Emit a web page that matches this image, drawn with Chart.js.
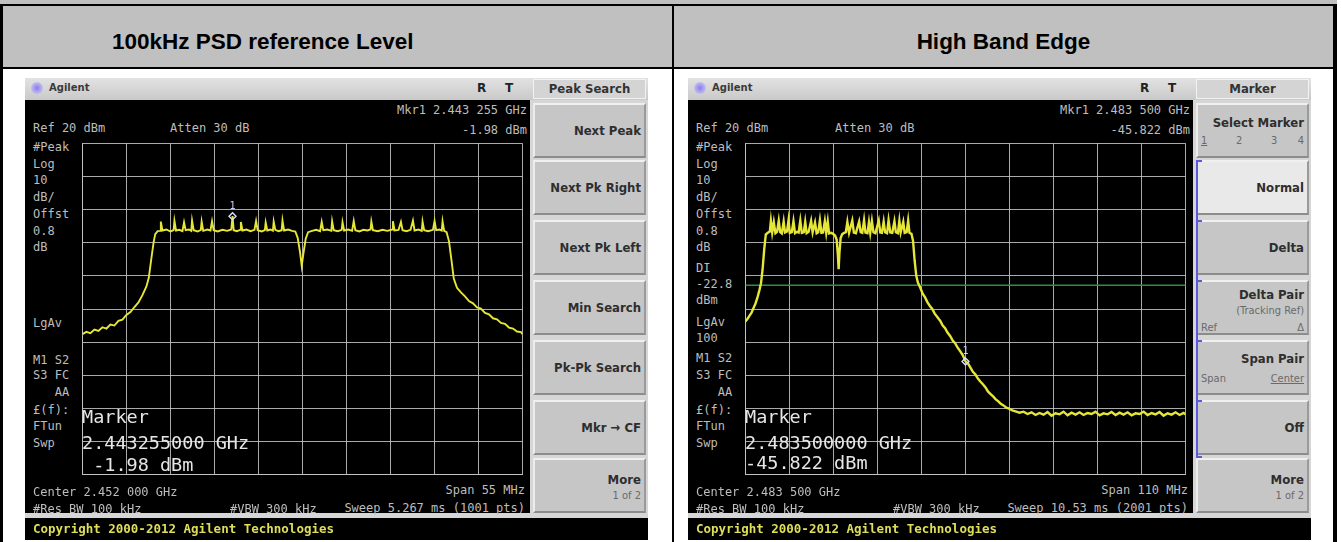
<!DOCTYPE html>
<html>
<head>
<meta charset="utf-8">
<script src="https://cdn.jsdelivr.net/npm/chart.js@4.4.1/dist/chart.umd.min.js"></script>
<style>
body{margin:0;width:1341px;height:542px;background:#fff;position:relative;overflow:hidden;font-family:"Liberation Sans",Arial,sans-serif}
.a{position:absolute}
.blk{position:absolute;background:#000}
.hcell{position:absolute;top:6px;height:61px;background:#c0c0c0}
.htxt{position:absolute;top:29px;font-weight:bold;font-size:22.5px;line-height:26px;color:#000;white-space:nowrap}
.panel{position:absolute;top:78px;width:623px;height:462px;background:#d6d6d6}
.titlebar{position:absolute;left:0;top:0;width:623px;height:22px;background:linear-gradient(#e2e2e2,#c9c9c9)}
.icon{position:absolute;left:6px;top:4px;width:12px;height:12px;border-radius:6px;background:radial-gradient(#8a7ce8,#b8b0f0 55%,rgba(200,200,240,0))}
.brand{position:absolute;left:24px;top:4px;font:bold 10px "DejaVu Sans";color:#3a3a3a}
.rt{position:absolute;top:3px;font:bold 12px "DejaVu Sans";color:#222}
.tab{position:absolute;left:508px;top:1px;width:111px;height:18px;border:1px solid #f2f2f2;background:#d4d4d4;text-align:center;font:bold 13px "DejaVu Sans Condensed";line-height:18px;color:#333}
.screen{position:absolute;left:0;top:22px;width:505px;height:413px;background:#000}
.copy{position:absolute;left:0;top:440px;width:623px;height:22px;background:#000}
.copy span{position:absolute;left:8px;top:3px;font:bold 12.5px "DejaVu Sans Mono";color:#dede5a;white-space:pre}
.plot{position:absolute;left:52px;top:60px}
.s{position:absolute;font:12px "DejaVu Sans Mono";line-height:14px;color:#bdbdbd;white-space:pre}
.big{position:absolute;left:57px;font:18.5px "DejaVu Sans Mono";line-height:22px;color:#e6e6e6;white-space:pre}
.key{position:absolute;left:508px;width:109px;height:51px;background:#c6c6c6;border-top:2px solid #f0f0f0;border-left:2px solid #ececec;border-bottom:2px solid #8c8c8c;border-right:2px solid #9a9a9a}
.kt{position:absolute;right:3px;font:bold 13px "DejaVu Sans Condensed";color:#2e2e2e;white-space:nowrap;line-height:16px}
.kn{position:absolute;font:11px "DejaVu Sans Condensed";color:#6a6a6a;white-space:nowrap;line-height:13px}
.brk{position:absolute;background:#5a5ae0}
</style>
</head>
<body>
<!-- table frame -->
<div class="a" style="left:0;top:0;width:1337px;height:4px;background:#c0c0c0"></div>
<div class="hcell" style="left:3px;width:669px"></div>
<div class="hcell" style="left:674px;width:659px"></div>
<div class="htxt" style="left:112px">100kHz PSD reference Level</div>
<div class="htxt" style="left:674px;width:659px;text-align:center">High Band Edge</div>
<div class="blk" style="left:0;top:4px;width:1337px;height:2px"></div>
<div class="blk" style="left:0;top:67px;width:1337px;height:2px"></div>
<div class="blk" style="left:0;top:4px;width:3px;height:538px"></div>
<div class="blk" style="left:672px;top:4px;width:2px;height:538px"></div>
<div class="blk" style="left:1333px;top:4px;width:4px;height:538px"></div>

<!-- left analyzer screen -->
<div class="panel" style="left:25px">
  <div class="titlebar"></div>
  <div class="icon"></div>
  <div class="brand">Agilent</div>
  <div class="rt" style="left:452px">R</div>
  <div class="rt" style="left:480px">T</div>
  <div class="tab">Peak Search</div>
  <div class="screen"></div>
  <canvas id="psdChart" class="plot" width="451" height="342"></canvas>

  <div class="s" style="left:8px;top:43px">Ref 20 dBm</div>
  <div class="s" style="left:145px;top:43px">Atten 30 dB</div>
  <div class="s" style="right:121px;top:25px">Mkr1 2.443 255 GHz</div>
  <div class="s" style="right:121px;top:45px">-1.98 dBm</div>
  <div class="s" style="left:8px;top:62px">#Peak</div>
  <div class="s" style="left:8px;top:79px">Log</div>
  <div class="s" style="left:8px;top:95px">10</div>
  <div class="s" style="left:8px;top:112px">dB/</div>
  <div class="s" style="left:8px;top:129px">Offst</div>
  <div class="s" style="left:8px;top:146px">0.8</div>
  <div class="s" style="left:8px;top:162px">dB</div>
  <div class="s" style="left:8px;top:238px">LgAv</div>
  <div class="s" style="left:8px;top:275px">M1 S2</div>
  <div class="s" style="left:8px;top:290px">S3 FC</div>
  <div class="s" style="left:8px;top:307px">   AA</div>
  <div class="s" style="left:8px;top:325px">£(f):</div>
  <div class="s" style="left:8px;top:341px">FTun</div>
  <div class="s" style="left:8px;top:358px">Swp</div>
  <div class="big" style="top:328px">Marker</div>
  <div class="big" style="top:354px">2.443255000 GHz</div>
  <div class="big" style="top:376px"> -1.98 dBm</div>
  <div class="s" style="left:8px;top:407px">Center 2.452 000 GHz</div>
  <div class="s" style="left:8px;top:424px">#Res BW 100 kHz</div>
  <div class="s" style="left:205px;top:424px">#VBW 300 kHz</div>
  <div class="s" style="right:123px;top:405px">Span 55 MHz</div>
  <div class="s" style="right:123px;top:423px">Sweep 5.267 ms (1001 pts)</div>

  <div class="key" style="top:25px"><div class="kt" style="top:18px">Next Peak</div></div>
  <div class="key" style="top:82px"><div class="kt" style="top:18px">Next Pk Right</div></div>
  <div class="key" style="top:142px"><div class="kt" style="top:18px">Next Pk Left</div></div>
  <div class="key" style="top:202px"><div class="kt" style="top:18px">Min Search</div></div>
  <div class="key" style="top:262px"><div class="kt" style="top:18px">Pk-Pk Search</div></div>
  <div class="key" style="top:322px"><div class="kt" style="top:18px">Mkr → CF</div></div>
  <div class="key" style="top:380px"><div class="kt" style="top:12px">More</div><div class="kn" style="right:3px;top:29px">1 of 2</div></div>

  <div class="copy"><span>Copyright 2000-2012 Agilent Technologies</span></div>
</div>

<!-- right analyzer screen -->
<div class="panel" style="left:688px">
  <div class="titlebar"></div>
  <div class="icon"></div>
  <div class="brand">Agilent</div>
  <div class="rt" style="left:452px">R</div>
  <div class="rt" style="left:480px">T</div>
  <div class="tab">Marker</div>
  <div class="screen"></div>
  <canvas id="edgeChart" class="plot" width="451" height="342"></canvas>

  <div class="s" style="left:8px;top:43px">Ref 20 dBm</div>
  <div class="s" style="left:147px;top:43px">Atten 30 dB</div>
  <div class="s" style="right:121px;top:25px">Mkr1 2.483 500 GHz</div>
  <div class="s" style="right:121px;top:45px">-45.822 dBm</div>
  <div class="s" style="left:8px;top:62px">#Peak</div>
  <div class="s" style="left:8px;top:79px">Log</div>
  <div class="s" style="left:8px;top:95px">10</div>
  <div class="s" style="left:8px;top:112px">dB/</div>
  <div class="s" style="left:8px;top:129px">Offst</div>
  <div class="s" style="left:8px;top:146px">0.8</div>
  <div class="s" style="left:8px;top:162px">dB</div>
  <div class="s" style="left:8px;top:183px">DI</div>
  <div class="s" style="left:8px;top:199px">-22.8</div>
  <div class="s" style="left:8px;top:215px">dBm</div>
  <div class="s" style="left:8px;top:237px">LgAv</div>
  <div class="s" style="left:8px;top:253px">100</div>
  <div class="s" style="left:8px;top:273px">M1 S2</div>
  <div class="s" style="left:8px;top:290px">S3 FC</div>
  <div class="s" style="left:8px;top:307px">   AA</div>
  <div class="s" style="left:8px;top:325px">£(f):</div>
  <div class="s" style="left:8px;top:341px">FTun</div>
  <div class="s" style="left:8px;top:358px">Swp</div>
  <div class="big" style="top:328px">Marker</div>
  <div class="big" style="top:354px">2.483500000 GHz</div>
  <div class="big" style="top:374px">-45.822 dBm</div>
  <div class="s" style="left:8px;top:407px">Center 2.483 500 GHz</div>
  <div class="s" style="left:8px;top:424px">#Res BW 100 kHz</div>
  <div class="s" style="left:205px;top:424px">#VBW 300 kHz</div>
  <div class="s" style="right:123px;top:405px">Span 110 MHz</div>
  <div class="s" style="right:123px;top:423px">Sweep 10.53 ms (2001 pts)</div>

  <div class="key" style="top:25px"><div class="kt" style="top:10px">Select Marker</div>
    <div class="kn" style="left:3px;top:29px;text-decoration:underline">1</div>
    <div class="kn" style="left:38px;top:29px">2</div>
    <div class="kn" style="left:73px;top:29px">3</div>
    <div class="kn" style="right:3px;top:29px">4</div></div>
  <div class="key" style="top:82px;background:#e9e9e9"><div class="kt" style="top:18px">Normal</div></div>
  <div class="key" style="top:142px"><div class="kt" style="top:18px">Delta</div></div>
  <div class="key" style="top:202px"><div class="kt" style="top:5px">Delta Pair</div>
    <div class="kn" style="right:3px;top:22px">(Tracking Ref)</div>
    <div class="kn" style="left:3px;top:39px">Ref</div>
    <div class="kn" style="right:3px;top:39px">Δ</div></div>
  <div class="key" style="top:262px"><div class="kt" style="top:9px">Span Pair</div>
    <div class="kn" style="left:3px;top:30px">Span</div>
    <div class="kn" style="right:3px;top:30px;text-decoration:underline">Center</div></div>
  <div class="key" style="top:322px"><div class="kt" style="top:18px">Off</div></div>
  <div class="key" style="top:380px"><div class="kt" style="top:12px">More</div><div class="kn" style="right:3px;top:29px">1 of 2</div></div>
  <div class="brk" style="left:508px;top:82px;width:2px;height:298px"></div>
  <div class="brk" style="left:508px;top:82px;width:6px;height:2px"></div>
  <div class="brk" style="left:508px;top:142px;width:6px;height:2px"></div>
  <div class="brk" style="left:508px;top:202px;width:6px;height:2px"></div>
  <div class="brk" style="left:508px;top:262px;width:6px;height:2px"></div>
  <div class="brk" style="left:508px;top:322px;width:6px;height:2px"></div>
  <div class="brk" style="left:508px;top:378px;width:6px;height:2px"></div>

  <div class="copy"><span>Copyright 2000-2012 Agilent Technologies</span></div>
</div>

<script>
// analyzer settings read from the screens
const psdSpanGHz = [2.4245, 2.4795];   // center 2.452 GHz, span 55 MHz
const edgeSpanGHz = [2.4285, 2.5385];  // center 2.4835 GHz, span 110 MHz
const levelRangeDbm = [-80, 20];       // ref 20 dBm, 10 dB/div
const psdMarker = [2.443255, -1.98];
const edgeMarker = [2.4835, -45.822];
const displayLineDbm = [-22.8];

// trace readings [GHz, dBm]
const psdTrace = [
  [2.4245,-37.6],[2.4250,-36.9],[2.4255,-37.3],[2.4260,-36.2],[2.4265,-36.6],[2.4270,-35.5],[2.4275,-35.9],
  [2.4280,-34.7],[2.4285,-35.0],[2.4290,-33.6],[2.4295,-33.2],[2.4300,-31.8],[2.4305,-30.9],[2.4310,-29.4],
  [2.4315,-28.0],[2.4320,-25.8],[2.4325,-23.2],[2.4328,-20.5],[2.4331,-15.0],[2.4334,-9.8],[2.4336,-7.4],
  [2.4339,-6.5],[2.4342,-6.4],[2.4343,-3.6],[2.4345,-6.3],[2.4350,-6.0],[2.4355,-6.6],[2.4359,-6.2],
  [2.4360,-3.4],[2.4362,-6.3],[2.4366,-6.1],[2.4370,-6.5],[2.4372,-3.8],[2.4374,-6.2],[2.4378,-6.0],
  [2.4381,-6.4],[2.4382,-3.3],[2.4384,-6.2],[2.4389,-6.6],[2.4393,-6.1],[2.4394,-3.6],[2.4396,-6.4],
  [2.4401,-6.0],[2.4405,-6.3],[2.4407,-3.5],[2.4409,-6.2],[2.4414,-6.6],[2.4420,-6.1],[2.4426,-6.4],
  [2.4431,-6.0],[2.44326,-1.98],[2.4434,-6.2],[2.4438,-6.5],[2.4442,-6.1],[2.4443,-3.7],[2.4445,-6.3],
  [2.4450,-6.0],[2.4455,-6.5],[2.4460,-6.1],[2.4462,-3.4],[2.4464,-6.2],[2.4469,-6.6],[2.4473,-6.2],
  [2.4474,-3.9],[2.4476,-6.3],[2.4480,-6.0],[2.4483,-6.4],[2.4484,-3.6],[2.4486,-6.1],[2.4490,-6.5],
  [2.4494,-6.2],[2.4495,-3.3],[2.4497,-6.3],[2.4502,-6.0],[2.4507,-6.4],[2.4511,-6.6],[2.4514,-8.5],
  [2.4517,-13.0],[2.4519,-17.0],[2.4521,-13.5],[2.4524,-8.8],[2.4527,-6.8],[2.4532,-6.4],[2.4537,-6.1],
  [2.4542,-6.5],[2.4544,-3.7],[2.4546,-6.2],[2.4551,-6.0],[2.4556,-6.4],[2.4557,-3.5],[2.4559,-6.2],
  [2.4564,-6.5],[2.4569,-6.1],[2.4570,-3.8],[2.4572,-6.3],[2.4577,-6.0],[2.4582,-6.4],[2.4584,-3.4],
  [2.4586,-6.2],[2.4591,-6.6],[2.4596,-6.1],[2.4601,-6.3],[2.4605,-6.0],[2.4606,-3.6],[2.4608,-6.2],
  [2.4614,-6.5],[2.4620,-6.1],[2.4626,-6.4],[2.4632,-6.0],[2.4633,-3.5],[2.4635,-6.3],[2.4640,-6.1],
  [2.4643,-3.7],[2.4645,-6.2],[2.4650,-6.5],[2.4655,-6.1],[2.4658,-3.3],[2.4660,-6.3],[2.4665,-6.0],
  [2.4669,-6.4],[2.4670,-3.6],[2.4672,-6.2],[2.4677,-6.5],[2.4683,-6.1],[2.4685,-3.4],[2.4687,-6.2],
  [2.4691,-6.0],[2.4694,-6.3],[2.4695,-3.5],[2.4697,-6.4],[2.4700,-6.8],[2.4703,-9.5],[2.4706,-15.0],
  [2.4709,-20.8],[2.4713,-23.6],[2.4718,-25.0],[2.4723,-26.2],[2.4728,-27.6],[2.4733,-28.3],[2.4738,-29.5],
  [2.4743,-29.9],[2.4748,-31.2],[2.4753,-31.6],[2.4758,-32.8],[2.4763,-33.1],[2.4768,-34.2],[2.4773,-34.5],
  [2.4778,-35.6],[2.4783,-35.9],[2.4788,-36.8],[2.4793,-37.0],[2.4795,-37.6]
];

const edgeTrace = [
  [2.4285,-33.8],[2.4290,-33.0],[2.4295,-32.1],[2.4300,-31.2],[2.4305,-29.8],[2.4310,-28.4],[2.4315,-26.6],
  [2.4320,-24.3],[2.4324,-22.2],[2.4328,-18.0],[2.4332,-12.0],[2.4336,-7.5],[2.4341,-7.0],[2.4346,-6.6],
  [2.43487,-3.4],[2.4352,-6.9],[2.4356,-3.8],[2.4360,-7.1],[2.4364,-6.7],[2.43683,-3.3],[2.4372,-6.8],
  [2.4376,-7.2],[2.43806,-3.6],[2.4384,-6.9],[2.4389,-6.6],[2.43928,-3.2],[2.4396,-7.0],[2.4401,-6.8],
  [2.44051,-3.5],[2.4409,-7.1],[2.4414,-6.7],[2.4418,-6.9],[2.44222,-3.3],[2.4426,-7.0],[2.4431,-6.8],
  [2.44345,-3.7],[2.4438,-7.1],[2.4443,-6.7],[2.44492,-3.4],[2.4453,-6.9],[2.44590,-3.9],[2.4463,-7.1],
  [2.4467,-6.8],[2.44712,-3.2],[2.4475,-7.0],[2.4479,-6.9],[2.44835,-3.5],[2.4487,-7.0],[2.44908,-3.6],
  [2.4494,-7.2],[2.4499,-7.0],[2.4504,-7.3],[2.4509,-7.8],[2.4513,-9.0],[2.4516,-13.5],[2.4518,-18.0],
  [2.4520,-13.0],[2.4523,-8.6],[2.4527,-7.4],[2.4532,-7.0],[2.4536,-6.8],[2.45398,-3.7],[2.4544,-7.0],
  [2.45521,-3.3],[2.4556,-6.9],[2.4561,-7.1],[2.45692,-3.6],[2.4573,-6.8],[2.4577,-7.0],[2.45815,-3.2],
  [2.4585,-6.9],[2.4590,-7.1],[2.45937,-3.8],[2.4597,-7.0],[2.46011,-3.4],[2.4605,-6.8],[2.4610,-7.1],
  [2.46182,-3.3],[2.4622,-6.9],[2.4626,-7.0],[2.46305,-3.6],[2.4634,-6.8],[2.4639,-7.1],[2.46427,-3.2],
  [2.4647,-6.9],[2.4652,-7.0],[2.46574,-3.5],[2.4661,-6.8],[2.4666,-7.1],[2.46697,-3.4],[2.4673,-6.9],
  [2.46795,-3.7],[2.4683,-7.0],[2.4688,-6.8],[2.46917,-3.3],[2.4695,-7.0],[2.4700,-7.3],[2.4704,-9.5],
  [2.4708,-15.5],[2.4712,-20.0],[2.4716,-22.0],[2.4722,-23.6],[2.4728,-25.4],[2.4734,-26.5],[2.4740,-28.0],
  [2.4746,-29.1],[2.4752,-30.0],[2.4758,-31.4],[2.4765,-32.5],[2.4772,-33.6],[2.4778,-35.0],[2.4784,-35.8],
  [2.4790,-37.1],[2.4797,-38.2],[2.4803,-39.5],[2.4809,-40.3],[2.4815,-41.6],[2.4822,-42.8],[2.4828,-43.9],
  [2.4835,-45.8],[2.4841,-46.4],[2.4847,-47.6],[2.4853,-48.9],[2.4860,-49.8],[2.4866,-51.0],[2.4872,-51.9],
  [2.4879,-52.8],[2.4885,-53.7],[2.4891,-54.9],[2.4897,-55.6],[2.4904,-56.4],[2.4910,-57.2],[2.4917,-57.9],
  [2.4923,-58.6],[2.4930,-59.1],[2.4937,-59.8],[2.4944,-60.1],[2.4952,-60.6],[2.4960,-60.9],[2.4970,-61.3],
  [2.4980,-61.0],[2.4990,-61.7],[2.5000,-61.2],[2.5010,-62.0],[2.5020,-61.4],[2.5030,-61.9],[2.5040,-61.1],
  [2.5050,-62.2],[2.5060,-61.5],[2.5070,-61.8],[2.5080,-61.0],[2.5090,-62.1],[2.5100,-61.3],[2.5110,-61.9],
  [2.5120,-61.2],[2.5130,-62.0],[2.5140,-61.4],[2.5150,-61.7],[2.5160,-61.0],[2.5170,-62.1],[2.5180,-61.5],
  [2.5190,-61.8],[2.5200,-61.1],[2.5210,-62.0],[2.5220,-61.3],[2.5230,-61.9],[2.5240,-61.2],[2.5250,-62.1],
  [2.5260,-61.5],[2.5270,-61.7],[2.5280,-61.0],[2.5290,-62.0],[2.5300,-61.4],[2.5310,-61.8],[2.5320,-61.1],
  [2.5330,-62.2],[2.5340,-61.5],[2.5350,-61.9],[2.5360,-61.2],[2.5370,-62.0],[2.5380,-61.4],[2.5385,-61.8]
];

// 10 divisions on both axes, like the analyzer graticule
function tenDivisions(axis) {
  const step = (axis.max - axis.min) / 10;
  axis.ticks = [];
  for (let i = 0; i <= 10; i++) axis.ticks.push({ value: axis.min + i * step });
}

const markerLabel = {
  id: 'markerLabel',
  afterDatasetsDraw(chart) {
    const pt = chart.getDatasetMeta(0).data[0];
    const ctx = chart.ctx;
    ctx.save();
    ctx.fillStyle = '#c8d2ff';
    ctx.font = '10px "DejaVu Sans Mono"';
    ctx.textAlign = 'center';
    ctx.fillText('1', pt.x, pt.y - 7);
    ctx.restore();
  }
};

function spectrum(id, trace, span, marker, lines, width) {
  const gridOpts = { color: 'rgba(200,200,200,0.85)', drawTicks: false, lineWidth: 1 };
  const datasets = [
    {
      data: [{ x: marker[0], y: marker[1] }],
      showLine: false, pointStyle: 'rectRot', pointRadius: 3.5,
      pointBorderColor: '#d6e0ff', pointBackgroundColor: 'rgba(0,0,0,0)', pointBorderWidth: 1.4,
      order: 0
    },
    {
      data: trace.map(p => ({ x: p[0], y: p[1] })),
      borderColor: '#e6e638', borderWidth: width, pointRadius: 0, tension: 0,
      order: 1
    }
  ];
  lines.forEach(v => datasets.push({
    data: [{ x: span[0], y: v }, { x: span[1], y: v }],
    borderColor: '#2f8f3c', borderWidth: 1.5, pointRadius: 0, order: 2
  }));

  new Chart(document.getElementById(id), {
    type: 'line',
    data: { datasets },
    options: {
      responsive: false,
      animation: false,
      devicePixelRatio: 1,
      events: [],
      layout: { padding: 1 },
      plugins: { legend: { display: false }, tooltip: { enabled: false } },
      scales: {
        x: {
          type: 'linear', min: span[0], max: span[1],
          afterBuildTicks: tenDivisions,
          ticks: { display: false }, grid: gridOpts,
          border: { color: 'rgba(200,200,200,0.85)' }
        },
        y: {
          type: 'linear', min: levelRangeDbm[0], max: levelRangeDbm[1],
          afterBuildTicks: tenDivisions,
          ticks: { display: false }, grid: gridOpts,
          border: { color: 'rgba(200,200,200,0.85)' }
        }
      }
    },
    plugins: [markerLabel]
  });
}

spectrum('psdChart', psdTrace, psdSpanGHz, psdMarker, [], 1.9);
spectrum('edgeChart', edgeTrace, edgeSpanGHz, edgeMarker, displayLineDbm, 2.4);
</script>
</body>
</html>
